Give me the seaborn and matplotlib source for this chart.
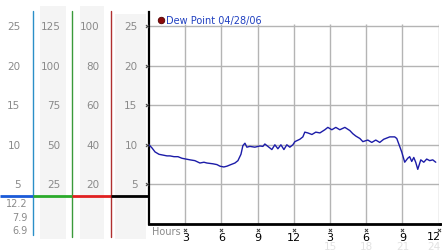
import matplotlib
matplotlib.use("Agg")
import matplotlib.pyplot as plt
import matplotlib.transforms as mtransforms
from matplotlib.patches import Rectangle
import seaborn as sns
import pandas as pd

# ---------------- data ----------------
hours = [0.0, 0.25, 0.5, 0.83, 1.16, 1.49, 1.74, 2.07, 2.4, 2.73, 3.06, 3.4, 3.8,
         4.22, 4.55, 4.8, 5.3, 5.63, 5.88, 6.2, 6.46, 6.7, 7.12, 7.37, 7.62, 7.78,
         7.95, 8.11, 8.36, 8.77, 9.19, 9.44, 9.6, 9.85, 10.18, 10.43, 10.68, 10.93,
         11.18, 11.42, 11.67, 11.92, 12.09, 12.5, 12.75, 12.91, 13.16, 13.5, 13.82,
         14.16, 14.57, 14.82, 15.15, 15.48, 15.81, 16.23, 16.64, 16.89, 17.14, 17.47,
         17.72, 18.13, 18.46, 18.79, 19.12, 19.45, 19.95, 20.36, 20.53, 20.7, 20.94,
         21.19, 21.44, 21.6, 21.77, 21.94, 22.1, 22.27, 22.52, 22.77, 23.01, 23.26,
         23.51, 23.76]
dew_point = [10.0, 9.6, 9.1, 8.8, 8.7, 8.6, 8.6, 8.5, 8.5, 8.3, 8.2, 8.1, 8.0,
             7.7, 7.8, 7.7, 7.6, 7.5, 7.3, 7.2, 7.3, 7.45, 7.7, 8.0, 8.8, 9.9,
             10.2, 9.7, 9.8, 9.7, 9.85, 9.8, 10.1, 9.8, 9.4, 10.0, 9.5, 10.0,
             9.4, 10.0, 9.7, 10.0, 10.4, 10.7, 11.0, 11.6, 11.5, 11.3, 11.6,
             11.5, 11.9, 12.2, 11.9, 12.2, 11.9, 12.2, 11.8, 11.4, 11.1, 10.8,
             10.4, 10.6, 10.3, 10.6, 10.3, 10.7, 11.0, 11.0, 10.8, 10.1, 9.1,
             7.8, 8.3, 8.5, 7.9, 8.4, 7.8, 6.9, 8.1, 7.8, 8.2, 8.0,
             8.1, 7.8]

x_ticks = [3, 6, 9, 12, 15, 18, 21, 24]
x_tick_labels = ["3", "6", "9", "12", "3", "6", "9", "12"]
x_sub_ticks = [15, 18, 21, 24]
x_sub_labels = ["15", "18", "21", "24"]
y_ticks = [5, 10, 15, 20, 25]
scale1_labels = ["5", "10", "15", "20", "25"]
scale2_labels = ["25", "50", "75", "100", "125"]
scale3_labels = ["20", "40", "60", "80", "100"]
scale4_labels = ["5", "10", "15", "20", "25"]
stat_labels = ["12.2", "7.9", "6.9"]
legend_label = "Dew Point 04/28/06"
x_axis_label = "Hours"

df = pd.DataFrame({"hours": hours, "dew": dew_point})

# ---------------- style ----------------
sns.set_style("white")
plt.rcParams['font.family'] = ['DejaVu Sans']

W, H = 442, 253
fig = plt.figure(figsize=(W / 100, H / 100), dpi=100)
fig.patch.set_facecolor("white")

# pixel-coordinate background axes for the side scales
bg = fig.add_axes([0, 0, 1, 1], zorder=0)
bg.set_xlim(0, W)
bg.set_ylim(H, 0)
bg.axis("off")

# main plot axes
PX_PER_UNIT = 7.92
ax = fig.add_axes([149 / W, (H - 225) / H, 290 / W, 212 / H], zorder=2)
ax.set_facecolor("none")
ax.set_xlim(0, 24.03)
ax.set_ylim(0, 212 / PX_PER_UNIT)

grid_c = "#b4b4b4"
ax.hlines(y_ticks, 0, 24.03, color=grid_c, lw=1, zorder=0)
ax.vlines(x_ticks, 0, 25.25, color=grid_c, lw=1, zorder=0)

sns.lineplot(data=df, x="hours", y="dew", ax=ax, color="#1c1ca8", lw=1.0, zorder=3)

for s in ["top", "right"]:
    ax.spines[s].set_visible(False)
ax.spines["left"].set_color("black")
ax.spines["left"].set_linewidth(1.6)
ax.spines["bottom"].set_color("black")
ax.spines["bottom"].set_linewidth(2)
ax.set_xlabel("")
ax.set_ylabel("")
ax.set_yticks([])
# last hour label is drawn separately so it stays inside the picture
ax.set_xticks(x_ticks, x_tick_labels[:-1] + [""])
ax.tick_params(axis="x", length=0, pad=6, labelsize=8, colors="black")
bg.text(441, 237.5, x_tick_labels[-1], ha="right", va="center", fontsize=8, color="black")

# small tick glyphs
ax.scatter(x_ticks, [-0.75] * len(x_ticks), marker="x", s=5, lw=0.7,
           color="#404040", clip_on=False, zorder=4)
ax.scatter([-0.17] * len(y_ticks), y_ticks, marker="x", s=5, lw=0.7,
           color="#404040", clip_on=False, zorder=4)

# extend bottom axis line to right edge
bg.plot([439, W], [225, 225], color="black", lw=2, solid_capstyle="butt")

# shaded columns
shade = "#f4f4f4"
bg.add_patch(Rectangle((40, 7), 26, 233, color=shade, lw=0))
bg.add_patch(Rectangle((80, 7), 24, 233, color=shade, lw=0))
bg.add_patch(Rectangle((115, 15), 31, 225, color=shade, lw=0))

# vertical scale lines
bg.plot([33, 33], [12, 236], color="#2b8fc8", lw=1)
bg.plot([72, 72], [12, 238], color="#3a9a3a", lw=1)
bg.plot([111, 111], [12, 238], color="#b03030", lw=1)

# coloured baseline
bg.plot([0, 33], [197, 197], color="#1a5ad8", lw=2, solid_capstyle="butt")
bg.plot([33, 72], [197, 197], color="#2aaa2a", lw=2, solid_capstyle="butt")
bg.plot([72, 111], [197, 197], color="#e02020", lw=2, solid_capstyle="butt")
bg.plot([111, 149], [197, 197], color="black", lw=2, solid_capstyle="butt")

# side scale labels
tr = mtransforms.blended_transform_factory(bg.transData, ax.transData)
lab_c = "#8a8a8a"
for v, a, b, c, d in zip(y_ticks, scale1_labels, scale2_labels, scale3_labels, scale4_labels):
    ax.text(20.5, v, a, transform=tr, ha="right", va="center", fontsize=7.5, color=lab_c)
    ax.text(60.5, v, b, transform=tr, ha="right", va="center", fontsize=7.5, color=lab_c)
    ax.text(99.5, v, c, transform=tr, ha="right", va="center", fontsize=7.5, color=lab_c)
    ax.text(137.5, v, d, transform=tr, ha="right", va="center", fontsize=7.5, color=lab_c)

for lab, ypx in zip(stat_labels, [204, 218, 231]):
    bg.text(27.5, ypx, lab, ha="right", va="center", fontsize=7, color=lab_c)

# hours label
bg.text(152, 232, x_axis_label, ha="left", va="center", fontsize=7, color="#8a8a8a")

# faint secondary hour labels
tr2 = mtransforms.blended_transform_factory(ax.transData, bg.transData)
for xv, lab in zip(x_sub_ticks, x_sub_labels):
    if xv == x_sub_ticks[-1]:
        bg.text(440.5, 247, lab, ha="right", va="center", fontsize=7.5, color="#e2e2e2")
    else:
        ax.text(xv, 247, lab, transform=tr2, ha="center", va="center", fontsize=7.5,
                color="#e2e2e2", clip_on=False)

# legend
bg.scatter([161], [21], s=22, color="#8b0a0a", edgecolors="#500000", lw=0.6, zorder=5)
bg.text(165.5, 20.5, legend_label, ha="left", va="center", fontsize=7, color="#2040c0")

fig.savefig("out.png", dpi=100, facecolor="white")
